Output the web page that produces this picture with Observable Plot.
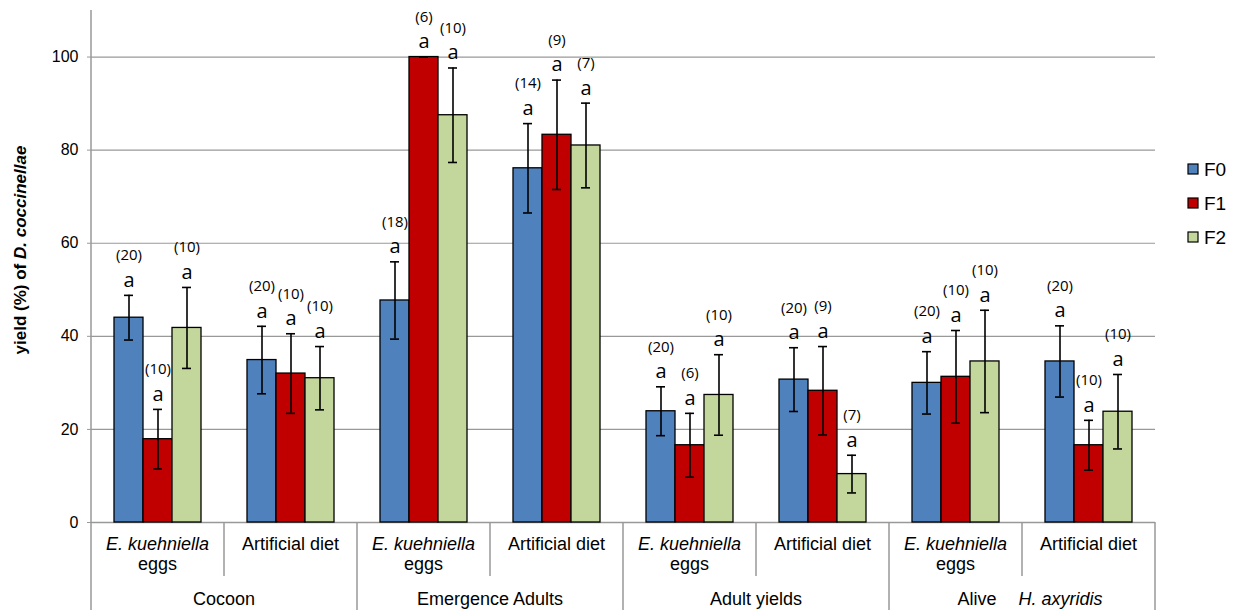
<!DOCTYPE html>
<html>
<head>
<meta charset="utf-8">
<script src="https://cdn.jsdelivr.net/npm/d3@7"></script>
<script src="https://cdn.jsdelivr.net/npm/@observablehq/plot@0.6"></script>
<style>
  html, body { margin: 0; padding: 0; background: #fff; }
  #chart { width: 1236px; height: 610px; }
  g[aria-label="y-axis tick"] { color: #999; }
</style>
</head>
<body>
<div id="chart"></div>
<script>
// Generations compared within each rearing host and measurement
const series = ["F0", "F1", "F2"];
const colors = ["#4f81bd", "#c00000", "#c3d69b"];

// Measurement groups and the two diets nested under each
const categories = ["Cocoon", "Emergence Adults", "Adult yields", "Alive H. axyridis"];
const diets = ["E. kuehniella eggs", "Artificial diet"];

// Mean yield (%) per subgroup, in order: Cocoon eggs, Cocoon diet, Emergence eggs, ...
const meanF0 = [44.0, 34.9, 47.7, 76.1, 23.9, 30.7, 30.0, 34.6];
const meanF1 = [17.9, 32.0, 100.0, 83.3, 16.6, 28.3, 31.3, 16.6];
const meanF2 = [41.8, 31.0, 87.5, 81.0, 27.4, 10.4, 34.6, 23.8];

// Standard error of each mean
const errF0 = [4.8, 7.25, 8.3, 9.6, 5.25, 6.85, 6.7, 7.65];
const errF1 = [6.4, 8.55, 0.0, 11.75, 6.85, 9.5, 9.95, 5.35];
const errF2 = [8.7, 6.8, 10.15, 9.1, 8.65, 4.05, 11.0, 8.0];

// Sample sizes
const nF0 = [20, 20, 18, 14, 20, 20, 20, 20];
const nF1 = [10, 10, 6, 9, 6, 9, 10, 10];
const nF2 = [10, 10, 10, 7, 10, 7, 10, 10];

// Significance letters
const letterF0 = ["a", "a", "a", "a", "a", "a", "a", "a"];
const letterF1 = ["a", "a", "a", "a", "a", "a", "a", "a"];
const letterF2 = ["a", "a", "a", "a", "a", "a", "a", "a"];

// Y axis
const yMax = 110;
const gridValues = [20, 40, 60, 80, 100];

const means = [meanF0, meanF1, meanF2];
const errs = [errF0, errF1, errF2];
const counts = [nF0, nF1, nF2];
const letters = [letterF0, letterF1, letterF2];

const subgroups = categories.flatMap(c => diets.map(d => `${c}|${d}`));
const rows = subgroups.flatMap((g, i) => series.map((s, j) => ({
  group: g,
  series: s,
  mean: means[j][i],
  lo: means[j][i] - errs[j][i],
  hi: means[j][i] + errs[j][i],
  n: counts[j][i],
  letter: letters[j][i]
})));

const W = 1236, H = 610;
const annotFont = "'Open Sans', 'Noto Sans', sans-serif";
const axisFont = "'Liberation Sans', Arial, sans-serif";

const chart = Plot.plot({
  width: W,
  height: H,
  marginTop: 10,
  marginRight: 78,
  marginBottom: 88,
  marginLeft: 87,
  style: { fontFamily: axisFont, fontSize: "16px", color: "#000", background: "#fff", overflow: "visible" },
  facet: { data: rows, x: "group" },
  fx: { domain: subgroups, padding: 0, axis: null, label: null },
  x: { domain: series, paddingInner: 0, paddingOuter: 0.75, axis: null },
  y: { domain: [0, yMax], ticks: 6, tickSize: 4, tickPadding: 9, label: null },
  color: { domain: series, range: colors },
  marks: [
    Plot.ruleY(gridValues, { stroke: "#999", strokeWidth: 1.2 }),
    Plot.ruleY([0], { stroke: "#999", strokeWidth: 1.5 }),
    Plot.barY(rows, { x: "series", y: "mean", fill: "series", stroke: "#000", strokeWidth: 1.3 }),
    Plot.ruleX(rows, { x: "series", y1: "lo", y2: "hi", stroke: "#000", strokeWidth: 1.6 }),
    Plot.tickY(rows, { x: "series", y: "hi", stroke: "#000", strokeWidth: 1.6, insetLeft: 10, insetRight: 10 }),
    Plot.tickY(rows, { x: "series", y: "lo", stroke: "#000", strokeWidth: 1.6, insetLeft: 10, insetRight: 10 }),
    Plot.text(rows, { x: "series", y: "hi", text: "letter", dy: -15, fontSize: 20, fontFamily: annotFont, fill: "#000" }),
    Plot.text(rows, { x: "series", y: "hi", text: d => `(${d.n})`, dy: -40, fontSize: 15, fontFamily: annotFont, fill: "#000" })
  ]
});

document.getElementById("chart").appendChild(chart);

// Hierarchical category axis, legend and y title, placed with the plot's own scales
const svg = d3.select(chart);
const fx = chart.scale("fx");
const yS = chart.scale("y");
const bw = fx.bandwidth != null ? fx.bandwidth : (fx.range[1] - fx.range[0]) / subgroups.length;
const left = fx.apply(subgroups[0]);
const right = fx.apply(subgroups[subgroups.length - 1]) + bw;
const y0 = yS.apply(0);
const yTop = yS.apply(yMax);

const axisG = svg.append("g").attr("stroke", "#999").attr("stroke-width", 1.5);
// vertical axis line runs from the top of the y range through the category rows
axisG.append("line").attr("x1", left).attr("x2", left).attr("y1", yTop).attr("y2", H);
subgroups.forEach((g, i) => {
  if (i === 0) return;
  const x = fx.apply(g);
  const isCategoryEdge = i % diets.length === 0;
  axisG.append("line").attr("x1", x).attr("x2", x).attr("y1", y0).attr("y2", isCategoryEdge ? H : y0 + 54);
});
axisG.append("line").attr("x1", right).attr("x2", right).attr("y1", y0).attr("y2", H);

const labelG = svg.append("g")
  .attr("font-family", axisFont)
  .attr("font-size", 18)
  .attr("fill", "#000")
  .attr("text-anchor", "middle");

subgroups.forEach((g, i) => {
  const cx = fx.apply(g) + bw / 2;
  const diet = g.split("|")[1];
  if (diet === diets[0]) {
    labelG.append("text").attr("x", cx).attr("y", y0 + 22).attr("dy", "0.35em")
      .attr("font-style", "italic").text("E. kuehniella");
    labelG.append("text").attr("x", cx).attr("y", y0 + 42).attr("dy", "0.35em").text("eggs");
  } else {
    labelG.append("text").attr("x", cx).attr("y", y0 + 22).attr("dy", "0.35em").text(diet);
  }
});

categories.forEach((c) => {
  const cx = fx.apply(`${c}|${diets[0]}`) + bw;
  const t = labelG.append("text").attr("x", cx).attr("y", y0 + 77).attr("dy", "0.35em");
  if (c.startsWith("Alive ")) {
    t.attr("dx", 8);
    t.append("tspan").text("Alive");
    t.append("tspan").attr("dx", 22).attr("font-style", "italic").text(c.slice(6));
  } else {
    t.text(c);
  }
});

// y title with the species name in italics
const yMid = (yTop + y0) / 2 - 16;
const yt = svg.append("text")
  .attr("transform", `translate(20,${yMid}) rotate(-90)`)
  .attr("text-anchor", "middle")
  .attr("dy", "0.35em")
  .attr("font-family", axisFont)
  .attr("font-size", 17)
  .attr("font-weight", "bold")
  .attr("fill", "#000");
yt.append("tspan").text("yield (%) of ");
yt.append("tspan").attr("font-style", "italic").text("D. coccinellae");

// legend
const legendG = svg.append("g")
  .attr("font-family", axisFont)
  .attr("font-size", 19)
  .attr("text-anchor", "start");
series.forEach((s, i) => {
  const cy = 169 + i * 34;
  legendG.append("rect").attr("x", right + 33).attr("y", cy - 5).attr("width", 10).attr("height", 10)
    .attr("fill", chart.scale("color").apply(s)).attr("stroke", "#000").attr("stroke-width", 1.2);
  legendG.append("text").attr("x", right + 49).attr("y", cy).attr("dy", "0.35em")
    .attr("text-anchor", "start").attr("fill", "#000").text(s);
});
</script>
</body>
</html>
